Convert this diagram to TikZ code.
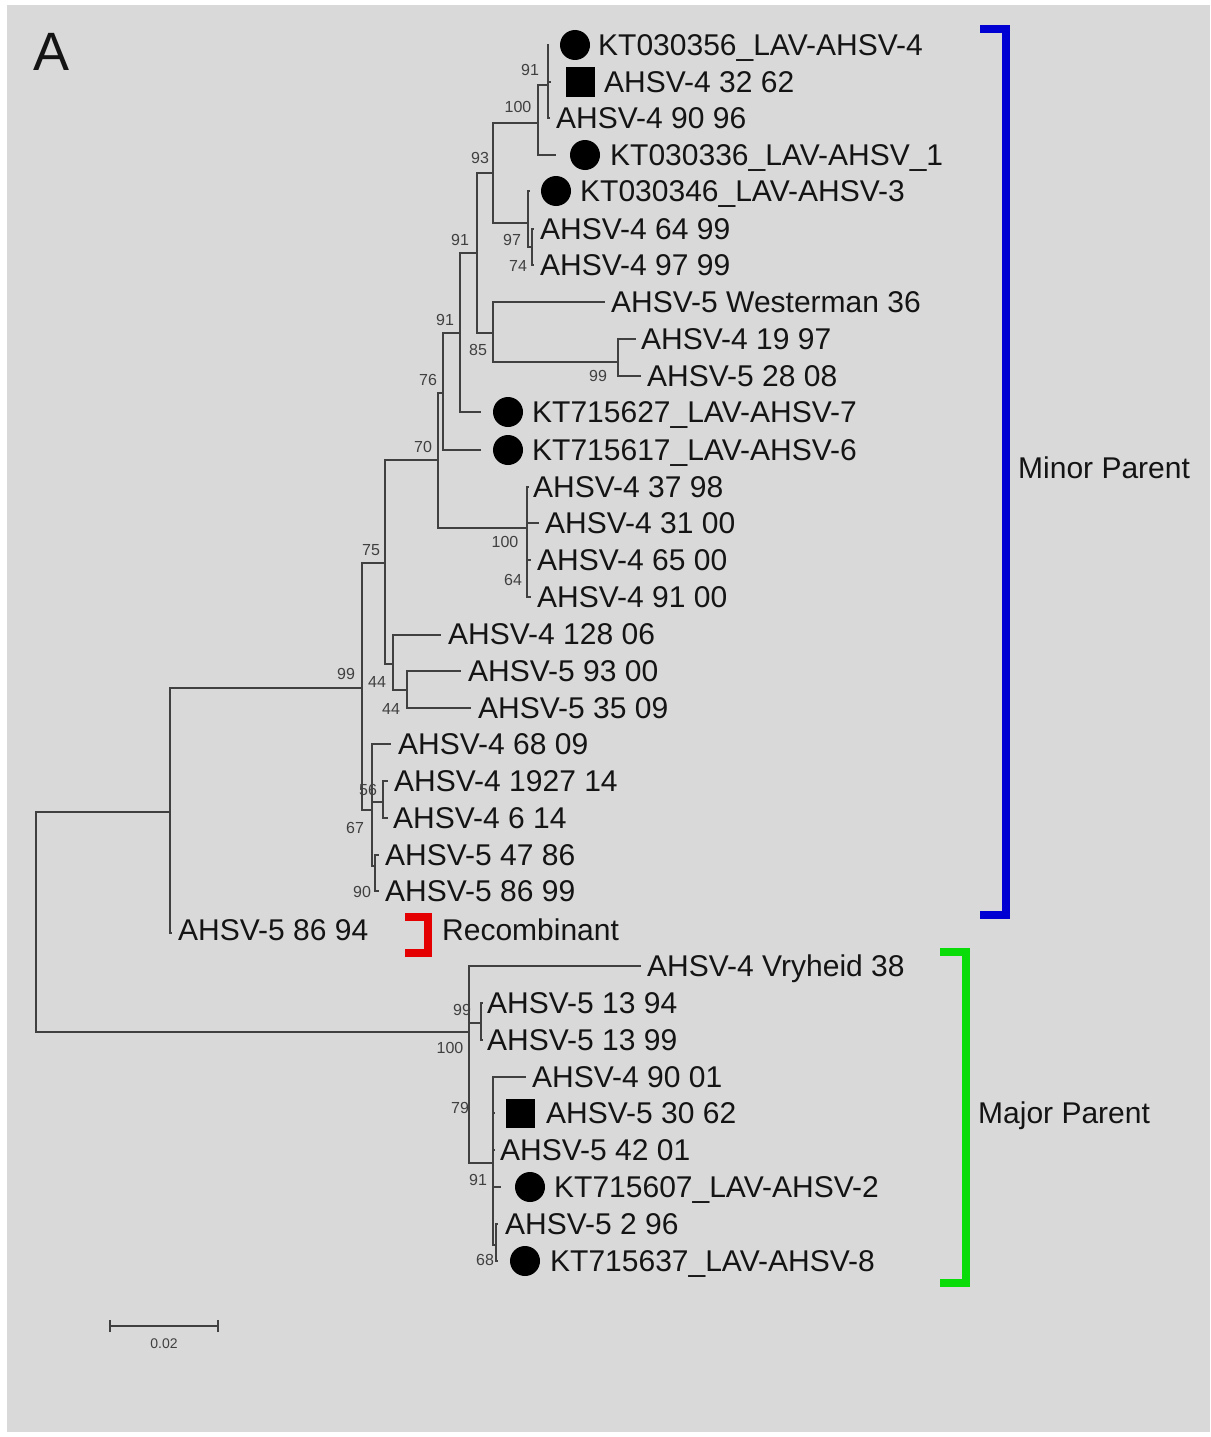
\documentclass[tikz,border=0pt]{standalone}
\usepackage{fontspec}
\setmainfont{Liberation Sans}
\newcommand\leafsize{\fontsize{30}{36}\selectfont}
\newcommand\bssize{\fontsize{16}{18}\selectfont}
\definecolor{bggray}{RGB}{217,217,217}
\definecolor{treegray}{RGB}{64,64,64}
\definecolor{txt}{RGB}{20,20,20}
\definecolor{bblue}{RGB}{0,0,210}
\definecolor{bgreen}{RGB}{10,220,10}
\definecolor{bred}{RGB}{228,0,0}
\tikzset{
  br/.style={draw=treegray, line width=2.7pt},
  lab/.style={anchor=west, inner sep=0pt, text height=21pt, text depth=0pt, font=\leafsize, text=txt},
  bs/.style={inner sep=0pt, font=\bssize, text=treegray},
  dotm/.style={circle, fill=black, minimum size=30pt, inner sep=0pt},
  sqm/.style={rectangle, fill=black, minimum size=29pt, inner sep=0pt},
  brk/.style={line width=8pt, line cap=butt, line join=miter},
}
\begin{document}
\begin{tikzpicture}[x=1pt,y=-1pt]
\useasboundingbox (0,0) rectangle (1210,1437);
\fill[bggray] (7,5) rectangle (1210,1432);
\node[inner sep=0pt, font=\fontsize{54}{60}\selectfont, text=txt] (lblA) at (52,52) {A};

% internal nodes
\coordinate (root) at (36,922);
\coordinate (n170) at (170,812);
\coordinate (n99) at (362,688);
\coordinate (n75) at (385,563);
\coordinate (n44a) at (393,664);
\coordinate (n44b) at (407,690);
\coordinate (n70) at (438,460);
\coordinate (n100b) at (527,528);
\coordinate (n76) at (443,393);
\coordinate (n91c) at (460,333);
\coordinate (n91b) at (477,253);
\coordinate (n93) at (493,173);
\coordinate (n100a) at (538,123);
\coordinate (n91a) at (548,85);
\coordinate (n97) at (528,223);
\coordinate (n74) at (532,247);
\coordinate (n85) at (493,333);
\coordinate (n99b) at (618,362);
\coordinate (n67) at (372,810);
\coordinate (n56) at (383,802);
\coordinate (n90) at (375,866);
\coordinate (n100c) at (469,1032);
\coordinate (n99c) at (481,1023);
\coordinate (n91d) at (493,1163);
\coordinate (n68) at (496,1245);

% leaf ends
\coordinate (l1) at (549,45);
\coordinate (l2) at (551,82);
\coordinate (l3) at (550,118);
\coordinate (l4) at (556,155);
\coordinate (l5) at (530,191);
\coordinate (l6) at (534,229);
\coordinate (l7) at (534,265);
\coordinate (l8) at (605,302);
\coordinate (l9) at (636,339);
\coordinate (l10) at (641,376);
\coordinate (l11) at (481,412);
\coordinate (l12) at (481,450);
\coordinate (l13) at (529,487);
\coordinate (l14) at (539,523);
\coordinate (l15) at (531,560);
\coordinate (l16) at (531,597);
\coordinate (l17) at (441,635);
\coordinate (l18) at (461,671);
\coordinate (l19) at (471,708);
\coordinate (l20) at (391,744);
\coordinate (l21) at (388,781);
\coordinate (l22) at (388,818);
\coordinate (l23) at (379,855);
\coordinate (l24) at (379,891);
\coordinate (l25) at (172,933);
\coordinate (l26) at (641,966);
\coordinate (l27) at (483,1003);
\coordinate (l28) at (483,1040);
\coordinate (l29) at (526,1077);
\coordinate (l30) at (495,1113);
\coordinate (l31) at (495,1150);
\coordinate (l32) at (501,1187);
\coordinate (l33) at (498,1224);
\coordinate (l34) at (498,1261);

% branches
\draw[br] (root) |- (n170);
\draw[br] (root) |- (n100c);
\draw[br] (n170) |- (n99);
\draw[br] (n170) |- (l25);
\draw[br] (n99) |- (n75);
\draw[br] (n99) |- (n67);
\draw[br] (n75) |- (n70);
\draw[br] (n75) |- (n44a);
\draw[br] (n44a) |- (l17);
\draw[br] (n44a) |- (n44b);
\draw[br] (n44b) |- (l18);
\draw[br] (n44b) |- (l19);
\draw[br] (n70) |- (n76);
\draw[br] (n70) |- (n100b);
\draw[br] (n100b) |- (l13);
\draw[br] (n100b) |- (l14);
\draw[br] (n100b) |- (l15);
\draw[br] (n100b) |- (l16);
\draw[br] (n76) |- (n91c);
\draw[br] (n76) |- (l12);
\draw[br] (n91c) |- (n91b);
\draw[br] (n91c) |- (l11);
\draw[br] (n91b) |- (n93);
\draw[br] (n91b) |- (n85);
\draw[br] (n93) |- (n100a);
\draw[br] (n93) |- (n97);
\draw[br] (n100a) |- (n91a);
\draw[br] (n100a) |- (l4);
\draw[br] (n91a) |- (l1);
\draw[br] (n91a) |- (l2);
\draw[br] (n91a) |- (l3);
\draw[br] (n97) |- (l5);
\draw[br] (n97) |- (n74);
\draw[br] (n74) |- (l6);
\draw[br] (n74) |- (l7);
\draw[br] (n85) |- (l8);
\draw[br] (n85) |- (n99b);
\draw[br] (n99b) |- (l9);
\draw[br] (n99b) |- (l10);
\draw[br] (n67) |- (l20);
\draw[br] (n67) |- (n56);
\draw[br] (n67) |- (n90);
\draw[br] (n56) |- (l21);
\draw[br] (n56) |- (l22);
\draw[br] (n90) |- (l23);
\draw[br] (n90) |- (l24);
\draw[br] (n100c) |- (l26);
\draw[br] (n100c) |- (n99c);
\draw[br] (n100c) |- (n91d);
\draw[br] (n99c) |- (l27);
\draw[br] (n99c) |- (l28);
\draw[br] (n91d) |- (l29);
\draw[br] (n91d) |- (l30);
\draw[br] (n91d) |- (l31);
\draw[br] (n91d) |- (l32);
\draw[br] (n91d) |- (n68);
\draw[br] (n68) |- (l33);
\draw[br] (n68) |- (l34);

% markers
\node[dotm] (m1) at (575,45) {};
\node[sqm] (m2) at (580,82) {};
\node[dotm] (m4) at (585,155) {};
\node[dotm] (m5) at (556,191) {};
\node[dotm] (m11) at (508,412) {};
\node[dotm] (m12) at (508,450) {};
\node[sqm] (m30) at (520,1113) {};
\node[dotm] (m32) at (530,1187) {};
\node[dotm] (m34) at (525,1261) {};

% leaf labels
\node[lab] (t1) at (598,45) {KT030356\_LAV-AHSV-4};
\node[lab] (t2) at (604,82) {AHSV-4 32 62};
\node[lab] (t3) at (556,118) {AHSV-4 90 96};
\node[lab] (t4) at (610,155) {KT030336\_LAV-AHSV\_1};
\node[lab] (t5) at (580,191) {KT030346\_LAV-AHSV-3};
\node[lab] (t6) at (540,229) {AHSV-4 64 99};
\node[lab] (t7) at (540,265) {AHSV-4 97 99};
\node[lab] (t8) at (611,302) {AHSV-5 Westerman 36};
\node[lab] (t9) at (641,339) {AHSV-4 19 97};
\node[lab] (t10) at (647,376) {AHSV-5 28 08};
\node[lab] (t11) at (532,412) {KT715627\_LAV-AHSV-7};
\node[lab] (t12) at (532,450) {KT715617\_LAV-AHSV-6};
\node[lab] (t13) at (533,487) {AHSV-4 37 98};
\node[lab] (t14) at (545,523) {AHSV-4 31 00};
\node[lab] (t15) at (537,560) {AHSV-4 65 00};
\node[lab] (t16) at (537,597) {AHSV-4 91 00};
\node[lab] (t17) at (448,634) {AHSV-4 128 06};
\node[lab] (t18) at (468,671) {AHSV-5 93 00};
\node[lab] (t19) at (478,708) {AHSV-5 35 09};
\node[lab] (t20) at (398,744) {AHSV-4 68 09};
\node[lab] (t21) at (394,781) {AHSV-4 1927 14};
\node[lab] (t22) at (393,818) {AHSV-4 6 14};
\node[lab] (t23) at (385,855) {AHSV-5 47 86};
\node[lab] (t24) at (385,891) {AHSV-5 86 99};
\node[lab] (t25) at (178,930) {AHSV-5 86 94};
\node[lab] (t26) at (647,966) {AHSV-4 Vryheid 38};
\node[lab] (t27) at (487,1003) {AHSV-5 13 94};
\node[lab] (t28) at (487,1040) {AHSV-5 13 99};
\node[lab] (t29) at (532,1077) {AHSV-4 90 01};
\node[lab] (t30) at (546,1113) {AHSV-5 30 62};
\node[lab] (t31) at (500,1150) {AHSV-5 42 01};
\node[lab] (t32) at (554,1187) {KT715607\_LAV-AHSV-2};
\node[lab] (t33) at (505,1224) {AHSV-5 2 96};
\node[lab] (t34) at (550,1261) {KT715637\_LAV-AHSV-8};

% bootstrap values
\node[bs] (b1) at (530,70) {91};
\node[bs] (b2) at (518,107) {100};
\node[bs] (b3) at (480,158) {93};
\node[bs] (b4) at (512,240) {97};
\node[bs] (b5) at (518,266) {74};
\node[bs] (b6) at (460,240) {91};
\node[bs] (b7) at (445,320) {91};
\node[bs] (b8) at (478,350) {85};
\node[bs] (b9) at (598,376) {99};
\node[bs] (b10) at (428,380) {76};
\node[bs] (b11) at (423,447) {70};
\node[bs] (b12) at (505,542) {100};
\node[bs] (b13) at (513,580) {64};
\node[bs] (b14) at (371,550) {75};
\node[bs] (b15) at (346,674) {99};
\node[bs] (b16) at (377,682) {44};
\node[bs] (b17) at (391,709) {44};
\node[bs] (b18) at (368,790) {56};
\node[bs] (b19) at (355,828) {67};
\node[bs] (b20) at (362,892) {90};
\node[bs] (b21) at (462,1010) {99};
\node[bs] (b22) at (450,1048) {100};
\node[bs] (b23) at (460,1108) {79};
\node[bs] (b24) at (478,1180) {91};
\node[bs] (b25) at (485,1260) {68};

% brackets
\draw[brk, bblue] (980,29) -- (1006,29) -- (1006,915) -- (980,915);
\draw[brk, bgreen] (940,952) -- (966,952) -- (966,1283) -- (940,1283);
\draw[brk, bred] (405,917) -- (428,917) -- (428,953) -- (405,953);
\node[lab] (minor) at (1018,468) {Minor Parent};
\node[lab] (major) at (978,1113) {Major Parent};
\node[lab] (recomb) at (442,930) {Recombinant};

% scale bar
\coordinate (sb1) at (110,1326);
\coordinate (sb2) at (218,1326);
\draw[treegray, line width=2pt] (sb1) -- (sb2);
\draw[treegray, line width=2pt] ([yshift=-6pt]sb1) -- ([yshift=6pt]sb1);
\draw[treegray, line width=2pt] ([yshift=-6pt]sb2) -- ([yshift=6pt]sb2);
\node[bs, font=\fontsize{14}{16}\selectfont] (sbl) at (164,1344) {0.02};
\end{tikzpicture}
\end{document}
